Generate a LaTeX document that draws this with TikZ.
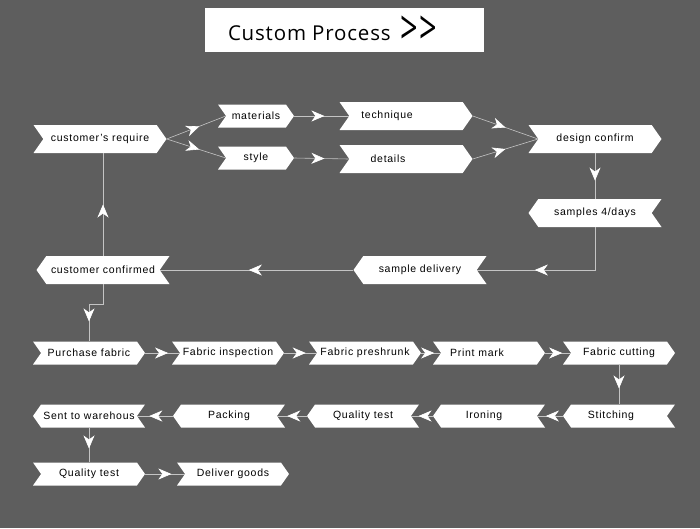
\documentclass[tikz,border=0pt]{standalone}
\usepackage{fontspec}
\setmainfont[LetterSpace=7]{Liberation Sans}
\newfontfamily\titlefont[LetterSpace=4]{Open Sans}
\usetikzlibrary{shapes.symbols,arrows.meta,decorations.markings}

\definecolor{bggray}{RGB}{94,94,94}
\definecolor{linegray}{RGB}{196,196,196}

\tikzset{
  chevr/.style={signal, signal from=west, signal to=east, signal pointer angle=110,
    fill=white, inner sep=0pt, font=\fontsize{10.5}{12}\selectfont},
  chevl/.style={signal, signal from=east, signal to=west, signal pointer angle=110,
    fill=white, inner sep=0pt, font=\fontsize{10.5}{12}\selectfont},
  topbox/.style={minimum width=133pt, minimum height=28pt},
  rowbox/.style={minimum width=112pt, minimum height=23pt},
  flow/.style={draw=linegray, line width=0.6pt, postaction={decorate},
    decoration={markings, mark=at position #1 with
      {\arrow[white]{Stealth[length=13pt,width=11pt,inset=4pt]}}}},
  flow/.default=0.55
}

\begin{document}
\begin{tikzpicture}[x=1pt, y=-1pt]

    % Background
    \useasboundingbox (0,0) rectangle (700,528);
    \fill[bggray] (0,0) rectangle (700,528);

    % Title
    \node[fill=white, minimum width=279pt, minimum height=44pt, inner sep=0pt] (title) at (344.5,30) {};
    \node[anchor=west, font=\titlefont\fontsize{20.5}{24}\selectfont, inner sep=0pt] (ttext) at ([xshift=23pt]title.west)
        {Custom Process\hspace{10pt}\raisebox{-4pt}{\scalebox{1.5}[2.3]{>{}>}}};

    % Sample stage
    \node[chevr, topbox] (cr) at (100,139) {customer's require};
    \node[chevr, minimum width=76pt, minimum height=23pt] (mat) at (256,116) {materials};
    \node[chevr, minimum width=76pt, minimum height=23pt] (sty) at (256,158) {style};
    \node[chevr, topbox] (tec) at (406,116) {technique\hspace{38pt}\null};
    \node[chevr, topbox] (det) at (406,159) {details\hspace{36pt}\null};
    \node[chevr, topbox] (dc) at (595,139) {design confirm};
    \node[chevl, topbox] (sam) at (595,213) {samples 4/days};
    \node[chevl, topbox] (sd) at (420,270) {sample delivery};
    \node[chevl, topbox] (cc) at (103,270) {customer confirmed};

    \draw[flow] (cr.east) -- (mat.west);
    \draw[flow] (cr.east) -- (sty.west);
    \draw[flow] (mat.east) -- (tec.west);
    \draw[flow] (sty.east) -- (det.west);
    \draw[flow=0.5] (tec.east) -- (dc.west);
    \draw[flow=0.5] (det.east) -- (dc.west);
    \draw[flow=0.6] (dc.south) -- (sam.north);
    \draw[flow=0.64] (sam.south) |- (sd.east);
    \draw[flow=0.54] (sd.west) -- (cc.east);
    \draw[flow=0.5] (cc.north) -- (cc.north |- cr.south);

    % Production stage
    \foreach \name/\x/\txt in {pf/89/Purchase fabric, fi/228/Fabric inspection, fp/365/Fabric preshrunk,
                              pm/489/Print mark\hspace{24pt}\null, fc/619/Fabric cutting}
        \node[chevr, rowbox] (\name) at (\x,353) {\txt};

    \foreach \name/\x/\txt in {st/619/Stitching\hspace{16pt}\null, ir/489/Ironing\hspace{10pt}\null, qt/363/Quality test,
                              pk/229/Packing, sw/89/Sent to warehous}
        \node[chevl, rowbox] (\name) at (\x,416) {\txt};

    \node[chevr, rowbox] (qt2) at (89,474) {Quality test};
    \node[chevr, rowbox] (dg) at (233,474) {Deliver goods};

    \draw[flow=0.72] (cc.south) -- ++(0,20) -| (pf.north);
    \foreach \a/\b in {pf/fi, fi/fp, fp/pm, pm/fc, qt2/dg}
        \draw[flow=0.66] (\a.east) -- (\b.west);
    \foreach \a/\b in {st/ir, ir/qt, qt/pk, pk/sw}
        \draw[flow=0.66] (\a.west) -- (\b.east);
    \draw[flow=0.6] (fc.south) -- (st.north);
    \draw[flow=0.6] (sw.south) -- (qt2.north);

\end{tikzpicture}
\end{document}
